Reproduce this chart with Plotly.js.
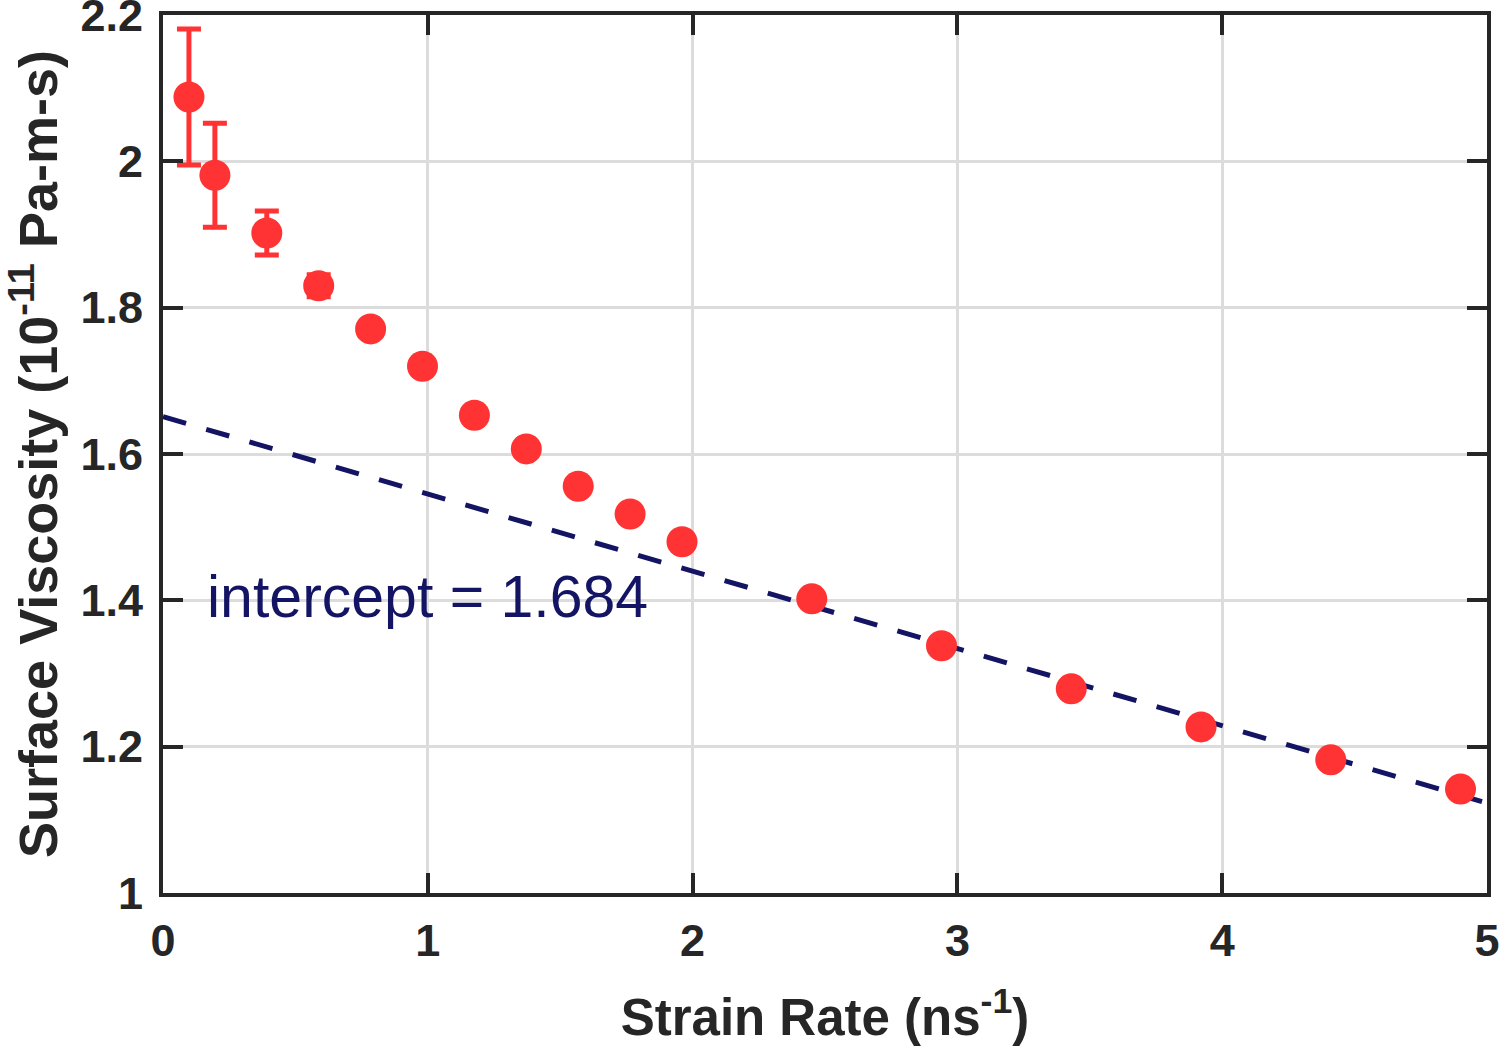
<!DOCTYPE html>
<html>
<head>
<meta charset="utf-8">
<script src="https://cdn.plot.ly/plotly-3.0.1.min.js"></script>
<style>html,body{margin:0;padding:0;background:#fff;}#chart{width:1500px;height:1053px;}</style>
</head>
<body>
<div id="chart"></div>
<script>
const strainRate = [0.098, 0.196, 0.392, 0.588, 0.784, 0.98, 1.176, 1.372, 1.568, 1.764, 1.96, 2.45, 2.94, 3.43, 3.92, 4.41, 4.9];
const viscosity = [2.088, 1.981, 1.902, 1.830, 1.771, 1.720, 1.653, 1.607, 1.556, 1.518, 1.480, 1.402, 1.338, 1.279, 1.227, 1.182, 1.142];
const viscErr = [0.093, 0.071, 0.030, 0.015, 0.008, 0, 0, 0, 0, 0, 0, 0, 0, 0, 0, 0, 0];
const fitX = [0, 5];
const fitY = [1.651, 1.123];
const xTicks = [0, 1, 2, 3, 4, 5];
const xTickText = ['0', '1', '2', '3', '4', '5'];
const yTicks = [1, 1.2, 1.4, 1.6, 1.8, 2, 2.2];
const yTickText = ['1', '1.2', '1.4', '1.6', '1.8', '2', '2.2'];
const annotationText = 'intercept = 1.684';

const font = 'Arial, "Liberation Sans", sans-serif';

const traces = [
  {
    x: fitX, y: fitY, mode: 'lines', type: 'scatter',
    line: {color: '#141464', width: 5, dash: '24px,21px'},
    hoverinfo: 'skip', showlegend: false
  },
  {
    x: strainRate, y: viscosity, mode: 'markers', type: 'scatter',
    marker: {color: '#ff3333', size: 31},
    error_y: {type: 'data', array: viscErr, visible: true, color: '#ff3333', thickness: 5, width: 12},
    showlegend: false
  }
];

const axisCommon = {
  showline: true, linecolor: '#262626', linewidth: 4, mirror: 'ticks',
  ticks: 'inside', ticklen: 20, tickwidth: 4, tickcolor: '#262626',
  showgrid: true, gridcolor: '#dcdcdc', gridwidth: 3, zeroline: false,
  tickfont: {family: font, size: 45, color: '#262626', weight: 'bold'},
  tickmode: 'array', ticklabeloverflow: 'allow'
};

const layout = {
  width: 1500, height: 1053,
  margin: {l: 163, r: 13, t: 15, b: 160},
  paper_bgcolor: '#ffffff', plot_bgcolor: '#ffffff',
  xaxis: Object.assign({}, axisCommon, {
    range: [0, 5], tickvals: xTicks, ticktext: xTickText, ticklabelstandoff: 5,
    title: {text: 'Strain Rate (ns<sup>-1</sup>)', font: {family: font, size: 51, color: '#262626', weight: 'bold'}, standoff: 35}
  }),
  yaxis: Object.assign({}, axisCommon, {
    range: [1, 2.2], tickvals: yTicks, ticktext: yTickText, ticklabelstandoff: 7,
    title: {text: 'Surface Viscosity (10<sup>-11</sup> Pa-m-s)', font: {family: font, size: 54, color: '#262626', weight: 'bold'}, standoff: 16}
  }),
  annotations: [{
    x: 0.16, y: 1.404, xref: 'x', yref: 'y', xanchor: 'left', yanchor: 'middle',
    text: annotationText, showarrow: false,
    font: {family: font, size: 59, color: '#141464'}
  }]
};

Plotly.newPlot('chart', traces, layout, {displayModeBar: false, staticPlot: true});
</script>
</body>
</html>
